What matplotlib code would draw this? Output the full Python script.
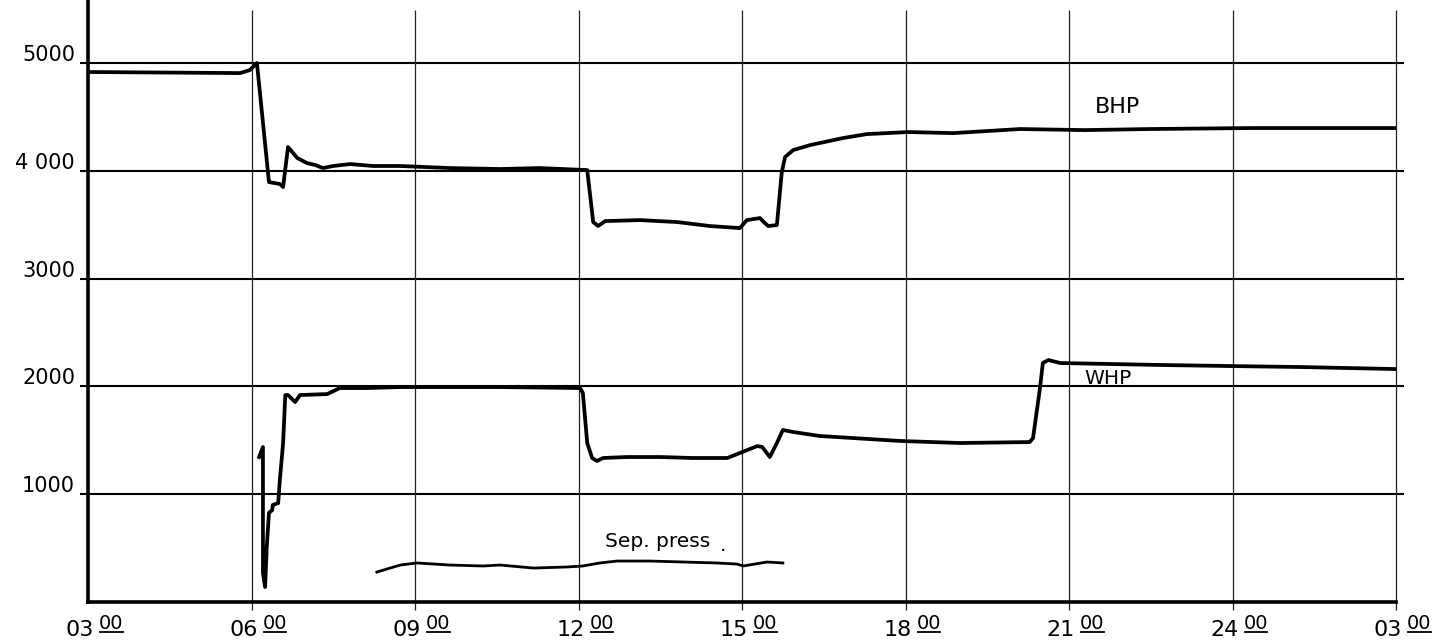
import numpy as np
import matplotlib
matplotlib.use("Agg")
import matplotlib.pyplot as plt
from matplotlib.lines import Line2D
from matplotlib.transforms import IdentityTransform

# time in hours from 03:00 (27 = 03:00 next day), pressures in psi
bhp_t = [3.0, 5.79, 5.97, 6.10, 6.32, 6.52, 6.58, 6.67, 6.84, 7.02, 7.17, 7.31,
         7.50, 7.81, 8.23, 8.73, 9.64, 10.56, 11.29, 12.16, 12.27, 12.36, 12.49,
         13.13, 13.81, 14.41, 14.96, 15.09, 15.33, 15.40, 15.48, 15.64, 15.73,
         15.79, 15.94, 16.25, 16.85, 17.29, 18.05, 18.87, 20.10, 21.29, 22.49,
         24.32, 27.0]
bhp_p = [4917, 4907, 4935, 5000, 3896, 3878, 3850, 4221, 4119, 4072, 4054, 4026,
         4045, 4063, 4045, 4045, 4026, 4017, 4026, 4007, 3525, 3488, 3534,
         3543, 3525, 3488, 3469, 3543, 3562, 3525, 3488, 3497, 3989,
         4128, 4193, 4239, 4304, 4341, 4360, 4350, 4388, 4378, 4388,
         4397, 4397]

whp_t = [6.14, 6.21, 6.21, 6.25, 6.28, 6.32, 6.38, 6.39, 6.49, 6.52, 6.58, 6.62,
         6.67, 6.80, 6.89, 7.39, 7.62, 8.12, 8.73, 10.56, 12.03, 12.08, 12.16,
         12.25, 12.34, 12.45, 12.89, 13.50, 14.10, 14.73, 14.96, 15.28, 15.37,
         15.51, 15.64, 15.75, 15.94, 16.43, 17.90, 19.0, 20.28, 20.34, 20.47,
         20.52, 20.62, 20.84, 21.75, 22.67, 23.95, 25.24, 27.0]
whp_p = [1345, 1438, 269, 139, 510, 826, 853, 900, 918, 1132, 1475, 1920,
         1920, 1855, 1920, 1929, 1985, 1985, 1994, 1994, 1985, 1939, 1475,
         1336, 1308, 1336, 1345, 1345, 1336, 1336, 1382, 1447, 1438,
         1345, 1475, 1596, 1577, 1540, 1494, 1475, 1484, 1521, 1994,
         2217, 2245, 2217, 2208, 2199, 2189, 2180, 2161]

sep_t = [8.30, 8.73, 9.04, 9.64, 10.25, 10.56, 11.17, 11.79, 12.08, 12.39,
         12.71, 13.31, 13.92, 14.54, 14.91, 15.02, 15.46, 15.75]
sep_p = [278, 343, 362, 343, 334, 343, 315, 325, 334, 362,
         380, 380, 371, 362, 352, 334, 371, 362]

xticks = [3, 6, 9, 12, 15, 18, 21, 24, 27]
xlabels = ["03", "06", "09", "12", "15", "18", "21", "24", "03"]
yticks = [1000, 2000, 3000, 4000, 5000]
ylabels = ["1000", "2000", "3000", "4 000", "5000"]

W, H = 1433, 641
fig = plt.figure(figsize=(W / 100, H / 100), dpi=100)
ax = fig.add_axes([88 / W, 39 / H, 1308 / W, 602 / H])
ax.set_xlim(3, 27)
ax.set_ylim(0, 5585)
ax.set_xticks([])
ax.set_yticks([])
for s in ["top", "right"]:
    ax.spines[s].set_visible(False)
ax.spines["left"].set_linewidth(2.6)
ax.spines["bottom"].set_linewidth(2.6)

# grid, drawn by hand so the lines stick out past the axes like on the chart paper
ax.hlines(yticks, 2.85, 27.15, color="black", lw=1.5, clip_on=False, zorder=1)
ax.vlines(xticks[1:], -70, 5490, color="#222222", lw=0.9, clip_on=False, zorder=1)

ax.plot(bhp_t, bhp_p, color="black", lw=2.7, solid_joinstyle="round", zorder=3)
ax.plot(whp_t, whp_p, color="black", lw=2.7, solid_joinstyle="round", zorder=3)
ax.plot(sep_t, sep_p, color="black", lw=2.0, solid_joinstyle="round", zorder=3)

ax.text(21.48, 4592, "BHP", fontsize=16, va="center", ha="left")
ax.text(21.29, 2078, "WHP", fontsize=14.5, va="center", ha="left")
ax.text(12.49, 557, "Sep. press", fontsize=14.5, va="center", ha="left")
ax.text(14.60, 520, ".", fontsize=14.5, va="center", ha="left")

for p, lab in zip(yticks, ylabels):
    ax.annotate(lab, xy=(3, p), xytext=(-13, 2), textcoords="offset pixels",
                ha="right", va="baseline", fontsize=15)

sups = []
for t, lab in zip(xticks, xlabels):
    ax.annotate(lab, xy=(t, 0), xytext=(6, -34), textcoords="offset pixels",
                ha="right", va="baseline", fontsize=16)
    s = ax.annotate("00", xy=(t, 0), xytext=(11, -27), textcoords="offset pixels",
                    ha="left", va="baseline", fontsize=14)
    sups.append(s)

# underline the minutes
fig.canvas.draw()
r = fig.canvas.get_renderer()
for s in sups:
    bb = s.get_window_extent(r)
    y = bb.y0 + 1
    fig.add_artist(Line2D([bb.x0 + 1, bb.x1 - 1], [y, y], color="black", lw=1.3,
                          transform=IdentityTransform()))

fig.savefig("out.png", dpi=100)
